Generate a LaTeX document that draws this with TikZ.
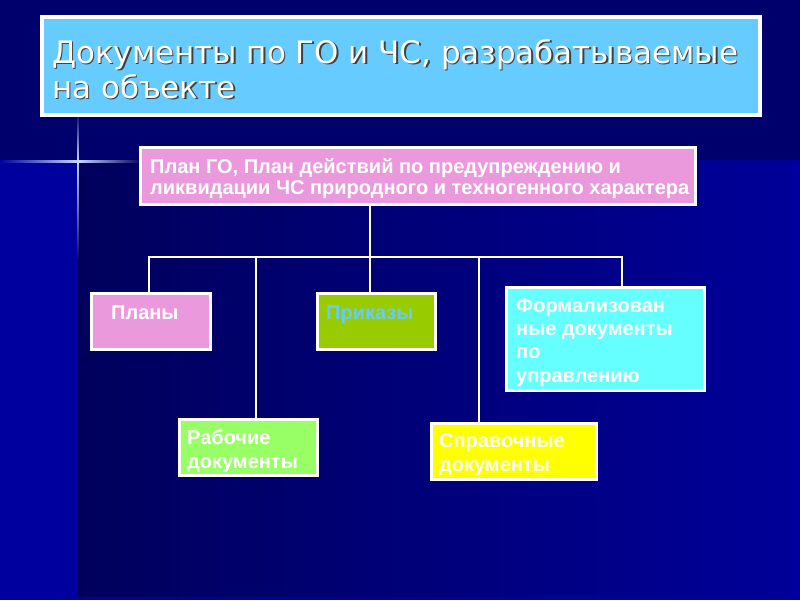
\documentclass[tikz,border=0pt]{standalone}
\usepackage{fontspec}
\setmainfont{Liberation Sans}
\newfontfamily\titlefont{DejaVu Sans}
\usetikzlibrary{positioning}

\definecolor{skyblue}{RGB}{102,204,255}
\definecolor{boxpink}{RGB}{234,153,220}
\definecolor{boxolive}{RGB}{153,204,0}
\definecolor{boxaqua}{RGB}{102,255,255}
\definecolor{boxlime}{RGB}{153,255,102}
\definecolor{boxyellow}{RGB}{255,255,0}
\definecolor{navytop}{RGB}{0,0,108}
\definecolor{navyside}{RGB}{0,0,158}
\definecolor{panelleft}{RGB}{0,0,92}
\definecolor{panelright}{RGB}{0,0,152}
\definecolor{flare}{RGB}{200,215,255}

\begin{document}
\begin{tikzpicture}[x=1pt, y=-1pt,
    box/.style = {draw=white, line width=3pt, anchor=north west, inner sep=0pt, outer sep=0pt},
    boxtext/.style = {text=white, font=\bfseries\fontsize{20}{24}\selectfont,
                      align=left, anchor=base west, inner sep=0pt},
    conn/.style = {draw=white, line width=2pt}]

    % background
    \fill[navytop] (0,0) rectangle (800,600);
    \fill[navyside] (0,160) rectangle (800,600);
    \shade[left color=panelleft, right color=panelright] (78,160) rectangle (791,596);
    \shade[top color=navytop, bottom color=flare] (77.3,112) rectangle (78.7,161);
    \shade[top color=flare, bottom color=panelleft] (77.3,161) rectangle (78.7,262);
    \shade[left color=navyside, right color=flare] (0,160) rectangle (78,162);
    \shade[left color=flare, right color=panelleft] (78,160) rectangle (142,162);
    \useasboundingbox (0,0) rectangle (800,600);

    % title (base anchor = last line)
    \node[box, line width=4pt, fill=skyblue, minimum width=718pt, minimum height=98pt] (title) at (42,17) {};
    \node[boxtext, font=\titlefont\fontsize{30.9}{35}\selectfont, text=black!75] (titleshadow) at (53.5,99.5)
        {Документы по ГО и ЧС, разрабатываемые\\на объекте};
    \node[boxtext, font=\titlefont\fontsize{30.9}{35}\selectfont] (titletxt) at (52,98)
        {Документы по ГО и ЧС, разрабатываемые\\на объекте};

    % boxes
    \node[box, fill=boxpink, minimum width=555pt, minimum height=57pt] (plan) at (140.5,147.5) {};
    \node[boxtext, font=\bfseries\fontsize{20}{21}\selectfont] (plantxt) at (150,194.3)
        {План ГО, План действий по предупреждению и\\ликвидации ЧС природного и техногенного характера};

    \node[box, fill=boxpink, minimum width=119pt, minimum height=56pt] (plany) at (91.5,293.5) {};
    \node[boxtext] (planytxt) at (111,319) {Планы};

    \node[box, fill=boxolive, minimum width=118pt, minimum height=56pt] (prikazy) at (317.5,293.5) {};
    \node[boxtext, text=skyblue] (prikazytxt) at (326,319) {Приказы};

    \node[box, fill=boxaqua, minimum width=198pt, minimum height=103pt] (formal) at (506.5,287.5) {};
    \node[boxtext, font=\bfseries\fontsize{20}{23.3}\selectfont] (formaltxt) at (516,382)
        {Формализован\\ные документы\\по\\управлению};

    \node[box, fill=boxlime, minimum width=138pt, minimum height=56pt] (rabochie) at (179.5,419.5) {};
    \node[boxtext] (rabochietxt) at (187,468) {Рабочие\\документы};

    \node[box, fill=boxyellow, minimum width=165pt, minimum height=56pt] (sprav) at (431.5,423.5) {};
    \node[boxtext] (spravtxt) at (439,471) {Справочные\\документы};

    % connectors
    \coordinate (hub) at (370,257);
    \coordinate (busL) at (149,257);
    \coordinate (busR) at (622,257);
    \coordinate (rab) at (256,257);
    \coordinate (spr) at (479,257);

    \draw[conn] (hub |- plan.south) -- (hub |- prikazy.north);
    \draw[conn] (busL |- plany.north) -- (busL) -- (busR) -- (busR |- formal.north);
    \draw[conn] (rab) -- (rab |- rabochie.north);
    \draw[conn] (spr) -- (spr |- sprav.north);

\end{tikzpicture}
\end{document}
